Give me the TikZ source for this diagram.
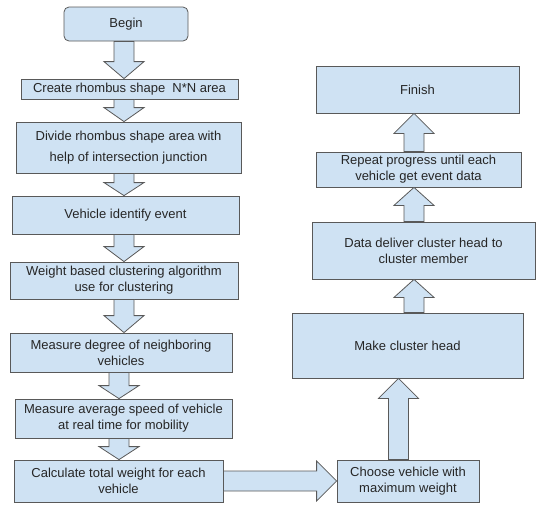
\documentclass[tikz,border=0pt]{standalone}
\usepackage{fontspec}
\setmainfont{Liberation Sans}
\usetikzlibrary{calc}
\definecolor{BoxClr}{HTML}{CFE2F3}
\definecolor{LineClr}{HTML}{595959}
\definecolor{TextClr}{HTML}{262626}

\newcommand{\blockarrow}[3][15]{%
\path (#2) coordinate (s) (#3) coordinate (t);
\path ($(t)!#1pt!(s)$) coordinate (h);
\draw[arrowbox] ($(s)!10pt!90:(t)$) -- ($(h)!10pt!-90:(s)$) -- ($(h)!20pt!-90:(s)$) -- (t)
  -- ($(h)!20pt!90:(s)$) -- ($(h)!10pt!90:(s)$) -- ($(s)!10pt!-90:(t)$) -- cycle;}

\begin{document}
\begin{tikzpicture}[x=1pt,y=-1pt,
  box/.style={draw=LineClr,fill=BoxClr,line width=0.8pt,text=TextClr,align=center,
    inner sep=0pt,font=\fontsize{13}{16}\selectfont},
  arrowbox/.style={draw=LineClr,fill=BoxClr,line width=0.8pt,line join=miter}]
\useasboundingbox (0,0) rectangle (543,504);

\node[box,rounded corners=5pt,minimum width=124pt,minimum height=34pt] (begin) at (126,24) {Begin};
\node[box,minimum width=217pt,minimum height=20pt] (create) at (129.5,89) {Create rhombus shape\ \ N*N area};
\node[box,minimum width=225pt,minimum height=51pt] (divide) at (128.5,147.5) {Divide rhombus shape area with\\[5pt] help of intersection junction};
\node[box,minimum width=227pt,minimum height=38pt] (event) at (125.5,215) {Vehicle identify event};
\node[box,minimum width=228pt,minimum height=37pt] (weight) at (124,280.5) {Weight based clustering algorithm\\ use for clustering};
\node[box,minimum width=222pt,minimum height=39pt] (degree) at (121,352.5) {Measure degree of neighboring\\ vehicles};
\node[box,minimum width=217pt,minimum height=39pt] (speed) at (123.5,418.5) {Measure average speed of vehicle\\ at real time for mobility};
\node[box,minimum width=209pt,minimum height=42pt] (total) at (118.5,481) {Calculate total weight for each\\ vehicle};

\node[box,minimum width=142pt,minimum height=42pt] (choose) at (408,481) {Choose vehicle with\\ maximum weight};
\node[box,minimum width=231pt,minimum height=65pt] (head) at (407.5,345.5) {Make cluster head};
\node[box,minimum width=223pt,minimum height=57pt] (deliver) at (423.5,250.5) {Data deliver cluster head to\\ cluster member};
\node[box,minimum width=205pt,minimum height=35pt] (repeat) at (418.5,169.5) {Repeat progress until each\\ vehicle get event data};
\node[box,minimum width=203pt,minimum height=47pt] (finish) at (417.5,89.5) {Finish};

\coordinate (lc) at (124,0);
\coordinate (lcc) at (119,0);
\coordinate (cc) at (398.5,0);
\coordinate (rc) at (414,0);

\blockarrow[17]{begin.south -| lc}{create.north -| lc}
\blockarrow[14]{create.south -| lc}{divide.north -| lc}
\blockarrow[13]{divide.south -| lc}{event.north -| lc}
\blockarrow[15]{event.south -| lc}{weight.north -| lc}
\blockarrow[17]{weight.south -| lc}{degree.north -| lc}
\blockarrow[13]{degree.south -| lcc}{speed.north -| lcc}
\blockarrow[13]{speed.south -| lcc}{total.north -| lcc}
\blockarrow[20]{total.east}{choose.west}
\blockarrow[20]{choose.north -| cc}{head.south -| cc}
\blockarrow[18]{head.north -| rc}{deliver.south -| rc}
\blockarrow[18]{deliver.north -| rc}{repeat.south -| rc}
\blockarrow[20]{repeat.north -| rc}{finish.south -| rc}

\end{tikzpicture}
\end{document}
